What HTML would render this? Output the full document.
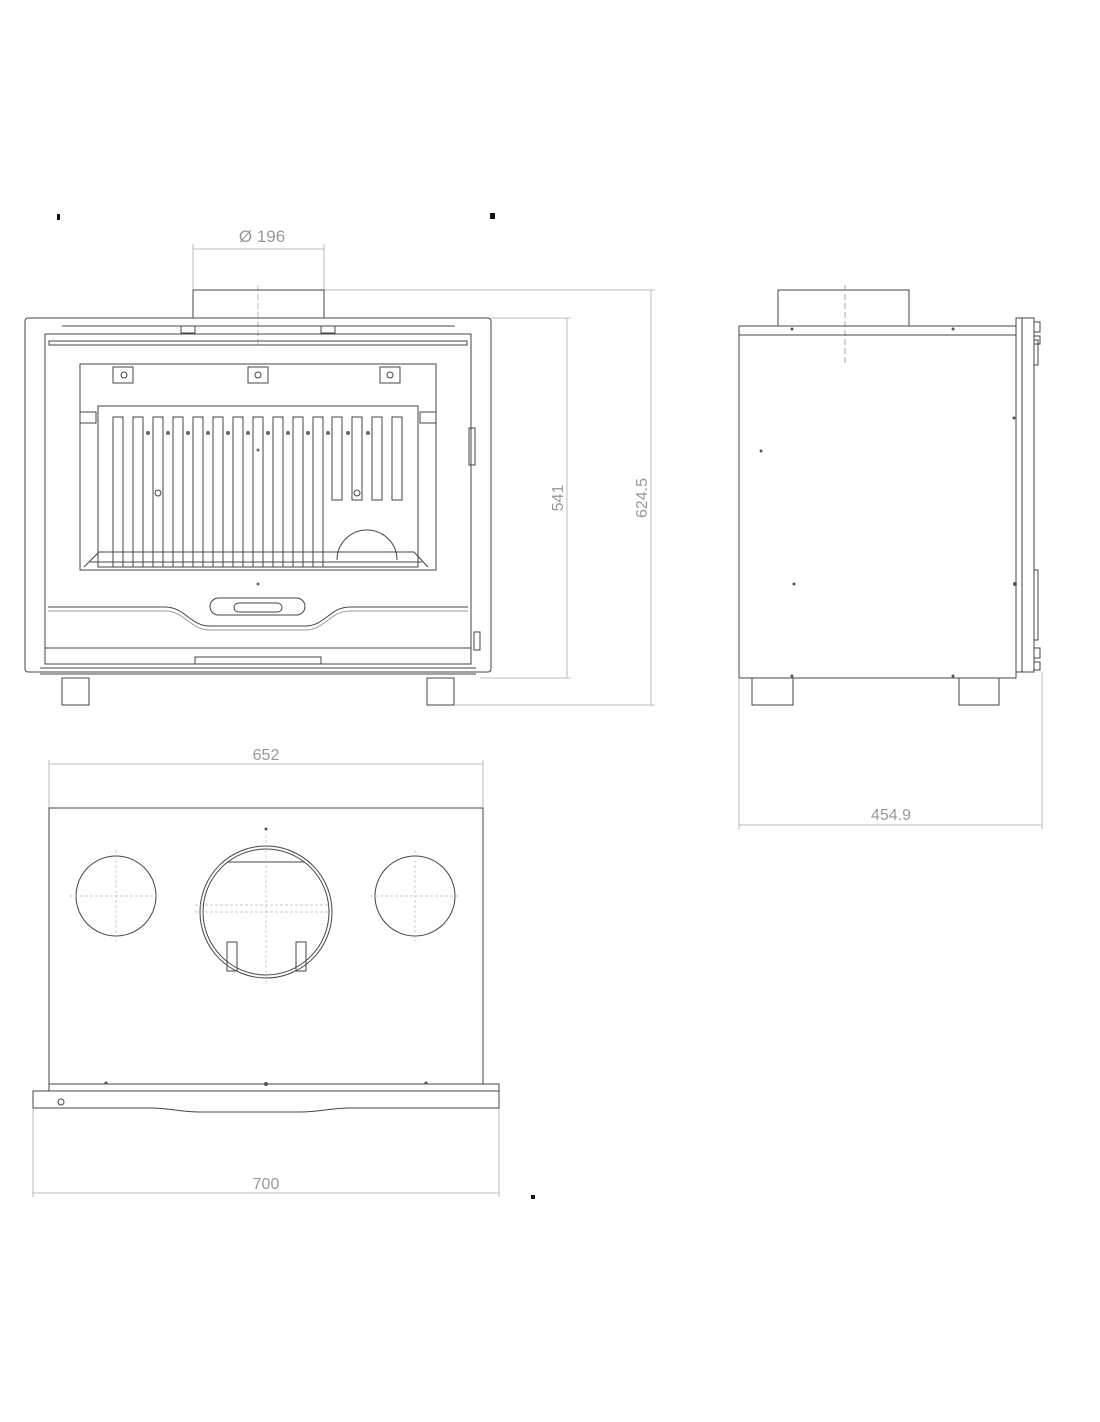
<!DOCTYPE html>
<html><head><style>
html,body{margin:0;padding:0;background:#fff;}
svg{display:block;}
text{font-family:"Liberation Sans Narrow","Liberation Sans",sans-serif;fill:#999;stroke:none;font-weight:normal;}
</style></head><body>
<svg width="1100" height="1422" viewBox="0 0 1100 1422" xmlns="http://www.w3.org/2000/svg">
<g fill="none" stroke="#444" stroke-width="1">
<rect x="57" y="214" width="3" height="6" fill="#111" stroke="none"/>
<rect x="490" y="213" width="5" height="6" fill="#111" stroke="none"/>
<rect x="531" y="1195" width="4" height="4" fill="#111" stroke="none"/>

<g stroke="#aaa" stroke-width="0.8">
<line x1="193" y1="249" x2="324" y2="249"/>
<line x1="193" y1="244" x2="193" y2="290"/>
<line x1="324" y1="244" x2="324" y2="290"/>
<line x1="324" y1="290" x2="655" y2="290"/>
<line x1="491" y1="318" x2="571" y2="318"/>
<line x1="480" y1="678" x2="571" y2="678"/>
<line x1="455" y1="705" x2="655" y2="705"/>
<line x1="567" y1="318" x2="567" y2="678"/>
<line x1="651" y1="290" x2="651" y2="705"/>
<line x1="258" y1="285" x2="258" y2="345" stroke-dasharray="6,3"/>
</g>
<text x="262" y="242" font-size="17" text-anchor="middle">Ø 196</text>
<text x="0" y="0" font-size="16" text-anchor="middle" transform="translate(563,498) rotate(-90)">541</text>
<text x="0" y="0" font-size="16" text-anchor="middle" transform="translate(647,498) rotate(-90)">624.5</text>

<rect x="193" y="290" width="131" height="28"/>
<rect x="25" y="318" width="466" height="354" rx="3"/>
<rect x="45" y="334" width="426" height="330"/>
<rect x="49" y="341" width="418" height="4"/>
<line x1="62" y1="326" x2="455" y2="326"/>
<rect x="181" y="326" width="14" height="7"/>
<rect x="321" y="326" width="14" height="7"/>
<rect x="80" y="364" width="356" height="206"/>
<rect x="113" y="367" width="20" height="16"/><circle cx="124" cy="375" r="3"/>
<rect x="248" y="367" width="20" height="16"/><circle cx="258" cy="375" r="3"/>
<rect x="380" y="367" width="20" height="16"/><circle cx="390" cy="375" r="3"/>
<rect x="98" y="406" width="320" height="161"/>
<rect x="80" y="412" width="16" height="11"/>
<rect x="420" y="412" width="16" height="11"/>
<g>
<rect x="113" y="417" width="10" height="150"/>
<rect x="133" y="417" width="10" height="150"/>
<rect x="153" y="417" width="10" height="150"/>
<rect x="173" y="417" width="10" height="150"/>
<rect x="193" y="417" width="10" height="150"/>
<rect x="213" y="417" width="10" height="150"/>
<rect x="233" y="417" width="10" height="150"/>
<rect x="253" y="417" width="10" height="150"/>
<rect x="273" y="417" width="10" height="150"/>
<rect x="293" y="417" width="10" height="150"/>
<rect x="313" y="417" width="10" height="150"/>
<rect x="332" y="417" width="10" height="83"/>
<rect x="352" y="417" width="10" height="83"/>
<rect x="372" y="417" width="10" height="83"/>
<rect x="392" y="417" width="10" height="83"/>
</g>
<g fill="#666" stroke="none">
<circle cx="148" cy="433" r="2"/><circle cx="168" cy="433" r="2"/><circle cx="188" cy="433" r="2"/>
<circle cx="208" cy="433" r="2"/><circle cx="228" cy="433" r="2"/><circle cx="248" cy="433" r="2"/>
<circle cx="268" cy="433" r="2"/><circle cx="288" cy="433" r="2"/><circle cx="308" cy="433" r="2"/>
<circle cx="328" cy="433" r="2"/><circle cx="348" cy="433" r="2"/><circle cx="368" cy="433" r="2"/>
<circle cx="258" cy="450" r="1.5"/><circle cx="258" cy="584" r="1.5"/>
</g>
<circle cx="158" cy="493" r="3"/><circle cx="357" cy="493" r="3"/>
<path d="M337 560 A30 30 0 1 1 397 560"/>
<path d="M84 567 L99 552 L414 552 L428 567"/>
<line x1="90" y1="562" x2="422" y2="562"/>
<rect x="469" y="428" width="6" height="37"/>
<rect x="210" y="598" width="95" height="17" rx="8.5"/>
<rect x="234" y="603" width="48" height="9" rx="4.5"/>
<path d="M48 607 L165 607 C185 607 190 626 210 626 L305 626 C325 626 330 607 350 607 L468 607"/>
<path d="M48 611 L165 611 C185 611 190 630 210 630 L305 630 C325 630 330 611 350 611 L468 611" stroke="#999"/>
<rect x="474" y="632" width="6" height="18"/>
<line x1="45" y1="648" x2="471" y2="648"/>
<line x1="40" y1="668" x2="476" y2="668"/>
<line x1="40" y1="674" x2="476" y2="674"/>
<rect x="195" y="657" width="126" height="7"/>
<rect x="62" y="678" width="27" height="27"/>
<rect x="427" y="678" width="27" height="27"/>

<rect x="778" y="290" width="131" height="36"/>
<line x1="845" y1="285" x2="845" y2="365" stroke="#aaa" stroke-dasharray="6,3"/>
<rect x="739" y="326" width="277" height="352"/>
<line x1="739" y1="335" x2="1016" y2="335"/>
<rect x="1016" y="318" width="18" height="354"/>
<line x1="1022" y1="318" x2="1022" y2="672"/>
<path d="M1034 322 h6 v10 h-6 M1034 336 h6 v8 h-6 M1034 340 h4 v25 h-4"/>
<path d="M1034 570 h4 v70 h-4 M1034 648 h6 v10 h-6 M1034 662 h6 v8 h-6"/>
<rect x="752" y="678" width="41" height="27"/>
<rect x="959" y="678" width="40" height="27"/>
<g fill="#555" stroke="none">
<circle cx="761" cy="451" r="1.5"/><circle cx="794" cy="584" r="1.5"/>
<circle cx="792" cy="329" r="1.5"/><circle cx="953" cy="329" r="1.5"/>
<circle cx="792" cy="676" r="1.5"/><circle cx="953" cy="676" r="1.5"/>
<circle cx="1014" cy="418" r="1.5"/><circle cx="1015" cy="584" r="2"/>
</g>
<g stroke="#aaa" stroke-width="0.8">
<line x1="739" y1="678" x2="739" y2="829"/>
<line x1="1042" y1="672" x2="1042" y2="829"/>
<line x1="739" y1="825" x2="1042" y2="825"/>
</g>
<text x="891" y="820" font-size="16" text-anchor="middle">454.9</text>

<g stroke="#aaa" stroke-width="0.8">
<line x1="49" y1="764" x2="483" y2="764"/>
<line x1="49" y1="760" x2="49" y2="808"/>
<line x1="483" y1="760" x2="483" y2="808"/>
<line x1="33" y1="1193" x2="499" y2="1193"/>
<line x1="33" y1="1108" x2="33" y2="1197"/>
<line x1="499" y1="1108" x2="499" y2="1197"/>
</g>
<text x="266" y="760" font-size="16" text-anchor="middle">652</text>
<text x="266" y="1189" font-size="16" text-anchor="middle">700</text>
<rect x="49" y="808" width="434" height="276"/>
<circle cx="116" cy="896" r="40"/>
<circle cx="415" cy="896" r="40"/>
<circle cx="266" cy="912" r="66"/>
<circle cx="266" cy="912" r="63"/>
<line x1="227" y1="862" x2="305" y2="862"/>
<rect x="227" y="942" width="10" height="29"/>
<rect x="296" y="942" width="10" height="29"/>
<g stroke="#bbb" stroke-width="0.7" stroke-dasharray="3,2">
<line x1="70" y1="896" x2="160" y2="896"/><line x1="116" y1="850" x2="116" y2="942"/>
<line x1="370" y1="896" x2="460" y2="896"/><line x1="415" y1="850" x2="415" y2="942"/>
<line x1="195" y1="905" x2="335" y2="905"/><line x1="195" y1="912" x2="335" y2="912"/>
<line x1="266" y1="835" x2="266" y2="985"/>
</g>
<circle cx="266" cy="829" r="1.5" fill="#555" stroke="none"/>
<rect x="49" y="1084" width="450" height="7"/>
<path d="M33 1091 L499 1091 L499 1108 L350 1108 C330 1108 320 1112 300 1112 L200 1112 C180 1112 170 1108 150 1108 L33 1108 Z"/>
<circle cx="61" cy="1102" r="3"/>
<g fill="#555" stroke="none">
<circle cx="106" cy="1083" r="1.5"/><circle cx="266" cy="1084" r="2"/><circle cx="426" cy="1083" r="1.5"/>
</g>
</g>
</svg>
</body></html>
